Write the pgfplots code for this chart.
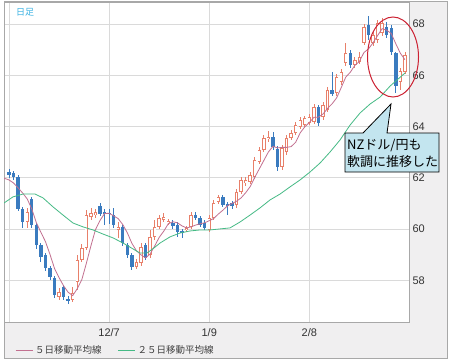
\documentclass[border=0pt]{standalone}
\usepackage{fontspec}
\setmainfont{Liberation Sans}
\newfontfamily\jp{Noto Sans CJK JP}
\usepackage{pgfplots}
\pgfplotsset{compat=1.18}
\usepackage{pgfplotstable}

\definecolor{candblue}{HTML}{3A7BBF}
\definecolor{candred}{HTML}{E8806A}
\definecolor{maFive}{HTML}{C27090}
\definecolor{maTwentyFive}{HTML}{45BA85}
\definecolor{gridgray}{HTML}{DADADA}
\definecolor{panelgray}{HTML}{F0EFF0}
\definecolor{framegray}{HTML}{A8A8A8}
\definecolor{labelblue}{HTML}{3DB3E3}
\definecolor{calloutfill}{HTML}{C3E5EF}
\definecolor{ellred}{HTML}{CC2233}

% up (red, hollow) candles: index open high low close
\pgfplotstableread{
i o h l c
4 60.28 60.83 60.05 60.67
11 57.36 57.71 57.24 57.55
14 57.24 57.75 57.16 57.51
15 57.94 58.99 57.63 58.80
16 58.80 59.42 58.72 59.27
17 59.27 60.75 59.19 60.55
18 60.48 60.83 60.36 60.63
19 60.55 60.79 60.44 60.67
24 59.97 60.28 59.66 60.09
28 58.53 58.84 58.45 58.72
29 58.68 59.46 58.57 59.30
31 58.99 59.97 58.88 59.70
32 59.70 60.36 59.58 60.09
33 60.09 60.55 60.01 60.44
34 60.36 60.63 60.28 60.48
35 60.24 60.40 60.16 60.32
39 59.97 60.12 59.89 60.05
40 60.09 60.67 60.01 60.55
44 59.97 60.55 59.89 60.44
45 60.44 61.14 60.36 61.02
46 61.06 61.33 60.98 61.26
50 60.94 61.57 60.83 61.45
51 61.45 62.04 61.37 61.92
52 61.80 62.04 61.68 61.92
53 61.84 62.23 61.76 62.11
54 62.04 62.81 61.96 62.70
55 62.62 63.20 62.54 63.09
56 63.09 63.67 63.01 63.56
57 63.52 63.83 63.40 63.59
60 62.43 63.28 62.31 63.17
61 63.01 63.67 62.89 63.56
62 63.56 63.87 63.48 63.75
63 63.75 64.18 63.67 64.06
64 63.99 64.37 63.91 64.26
65 64.06 64.41 63.99 64.34
66 64.14 64.49 64.06 64.37
67 64.18 64.88 64.10 64.76
69 64.37 64.96 64.26 64.84
70 64.65 65.54 64.57 65.43
72 65.31 66.05 65.19 65.93
73 65.74 66.25 65.62 66.13
74 66.48 67.26 66.36 66.87
76 66.40 66.71 66.29 66.60
77 66.52 66.91 66.44 66.71
78 67.26 68.00 67.18 67.88
80 67.26 67.69 67.14 67.57
81 67.38 68.16 67.26 68.04
82 67.65 68.23 67.53 68.04
86 65.74 66.29 65.43 66.17
87 66.13 66.91 66.05 66.79
}\upcandles

% down (blue, filled) candles
\pgfplotstableread{
i o h l c
0 62.23 62.35 61.99 62.11
1 62.19 62.27 61.92 62.04
2 62.04 62.11 60.71 60.79
3 60.79 60.87 60.05 60.28
5 61.18 61.26 60.05 60.16
6 60.16 60.24 59.23 59.38
7 59.38 59.46 58.72 58.92
8 58.99 59.07 58.37 58.49
9 58.49 58.57 58.02 58.14
10 58.10 58.17 57.32 57.43
12 57.75 57.82 57.24 57.36
13 57.28 57.40 57.08 57.20
20 60.90 61.02 60.51 60.59
21 60.67 60.79 60.16 60.59
22 60.65 60.79 60.20 60.60
23 60.55 60.83 60.05 60.16
25 60.09 60.16 59.34 59.46
26 59.38 59.46 58.88 58.99
27 58.99 59.07 58.41 58.53
30 59.38 59.46 58.80 58.88
36 60.24 60.36 60.01 60.12
37 60.16 60.28 59.70 59.89
38 59.93 60.01 59.66 59.85
41 60.55 60.67 60.36 60.44
42 60.44 60.51 60.09 60.16
43 60.24 60.36 59.97 60.05
47 61.26 61.33 60.87 60.94
48 60.98 61.06 60.55 60.90
49 61.02 61.10 60.79 60.90
58 63.59 63.79 63.09 63.20
59 63.13 63.24 62.27 62.43
68 64.76 64.84 64.02 64.14
71 65.43 66.13 65.19 65.27
75 66.87 66.99 66.29 66.40
79 67.96 68.31 67.38 67.57
83 67.88 68.08 67.45 67.57
84 67.84 67.96 66.79 66.91
85 66.87 66.91 65.31 65.60
}\downcandles

% 5-day moving average
\pgfplotstableread{
i v
-1.1 61.99
0 61.92
1 61.80
2 61.61
3 61.41
4 61.18
5 60.79
6 60.26
7 59.88
8 59.52
9 59.02
10 58.47
11 58.11
12 57.79
13 57.54
14 57.41
15 57.68
16 58.03
17 58.67
18 59.35
19 59.98
20 60.34
21 60.61
22 60.62
23 60.52
24 60.41
25 60.18
26 59.86
27 59.45
28 59.16
29 59.00
30 58.88
31 59.03
32 59.34
33 59.68
34 59.92
35 60.21
36 60.29
37 60.25
38 60.13
39 60.05
40 60.09
41 60.16
42 60.21
43 60.25
44 60.33
45 60.42
46 60.59
47 60.74
48 60.91
49 61.00
50 61.09
51 61.22
52 61.42
53 61.66
54 62.02
55 62.35
56 62.68
57 63.01
58 63.23
59 63.17
60 63.19
61 63.19
62 63.22
63 63.39
64 63.76
65 63.99
66 64.16
67 64.36
68 64.37
69 64.49
70 64.71
71 64.89
72 65.12
73 65.52
74 65.93
75 66.12
76 66.39
77 66.54
78 66.89
79 67.03
80 67.27
81 67.55
82 67.82
83 67.76
84 67.63
85 67.23
86 66.86
87 66.61
}\maFiveTab

% 25-day moving average
\pgfplotstableread{
i v
-1.10 61.02
0.88 61.26
3.08 61.37
5.71 61.37
7.47 61.22
9.67 60.87
11.87 60.55
14.07 60.24
16.26 60.09
18.46 59.97
20.66 59.81
22.86 59.66
25.05 59.46
27.25 59.23
28.79 59.07
30.33 59.07
32.09 59.30
33.19 59.46
35.38 59.70
37.58 59.85
39.78 59.93
41.98 59.97
44.18 59.97
46.37 60.01
48.57 60.05
50.77 60.28
52.97 60.55
55.16 60.83
57.36 61.14
59.56 61.37
61.76 61.65
63.96 61.92
66.15 62.23
68.35 62.58
70.55 63.01
72.75 63.48
74.95 64.06
77.14 64.53
79.34 64.88
81.54 65.15
83.74 65.58
85.27 65.82
87.03 66.09
}\maTwentyFiveTab

\begin{document}
\begin{tikzpicture}[x=1bp,y=1bp]
% outer panel
\fill[panelgray] (0,-36) rectangle (443,320);
\draw[framegray, line width=1bp] (0,-36) rectangle (443,320);
\begin{axis}[
  at={(0,0)}, anchor=south west,
  scale only axis, width=405bp, height=319bp,
  xmin=-1.1, xmax=87.9, ymin=56.38, ymax=68.82,
  axis background/.style={fill=white},
  axis line style={draw=framegray, line width=1bp},
  xtick={0,22,44,66}, xticklabels={,12/7,1/9,2/8},
  ytick={58,60,62,64,66,68},
  yticklabel pos=right,
  major tick length=0pt,
  grid=major, grid style={draw=gridgray, line width=0.9bp},
  tick label style={font=\fontsize{11bp}{12bp}\selectfont, text=black!80},
  xticklabel style={yshift=-3bp},
  /pgf/number format/assume math mode=true,
  legend columns=2,
  legend style={draw=none, fill=none, inner sep=0pt, at={(0.0272,-0.0878)}, anchor=west,
    font=\jp\fontsize{9.5bp}{10bp}\selectfont, text=black!75,
    /tikz/every even column/.append style={column sep=14bp}},
  legend image code/.code={\draw[#1, line width=1bp] (0bp,0bp) -- (17bp,0bp);},
]
% wicks
\addplot[forget plot, draw=none, mark=none, error bars/.cd, y dir=both, y explicit, error mark=none,
  error bar style={draw=candred, line width=0.8bp}]
  table[x=i, y expr={(\thisrow{h}+\thisrow{l})/2}, y error expr={(\thisrow{h}-\thisrow{l})/2}] {\upcandles};
\addplot[forget plot, draw=none, mark=none, error bars/.cd, y dir=both, y explicit, error mark=none,
  error bar style={draw=candblue, line width=0.8bp}]
  table[x=i, y expr={(\thisrow{h}+\thisrow{l})/2}, y error expr={(\thisrow{h}-\thisrow{l})/2}] {\downcandles};
% bodies
\addplot[forget plot, draw=none, mark=none, error bars/.cd, y dir=both, y explicit, error mark=none,
  error bar style={draw=candblue, line width=3.4bp}]
  table[x=i, y expr={(\thisrow{o}+\thisrow{c})/2}, y error expr={max((\thisrow{o}-\thisrow{c})/2,0.025)}] {\downcandles};
\addplot[forget plot, draw=none, mark=none, error bars/.cd, y dir=both, y explicit, error mark=none,
  error bar style={draw=candred, line width=3.4bp}]
  table[x=i, y expr={(\thisrow{o}+\thisrow{c})/2}, y error expr={max((\thisrow{c}-\thisrow{o})/2,0.025)}] {\upcandles};
\addplot[forget plot, draw=none, mark=none, error bars/.cd, y dir=both, y explicit, error mark=none,
  error bar style={draw=white, line width=1.8bp}]
  table[x=i, y expr={(\thisrow{o}+\thisrow{c})/2}, y error expr={max((\thisrow{c}-\thisrow{o})/2-0.032,0)}] {\upcandles};
% moving averages
\addplot[maFive, line width=0.8bp, mark=none] table[x=i, y=v] {\maFiveTab};
\addlegendentry{５日移動平均線}
\addplot[maTwentyFive, line width=0.8bp, mark=none] table[x=i, y=v] {\maTwentyFiveTab};
\addlegendentry{２５日移動平均線}
\end{axis}
% label
\node[anchor=west, inner sep=0pt, text=labelblue, font=\jp\fontsize{9bp}{10bp}\selectfont] at (12,310) {日足};
% highlight ellipse
\draw[ellred, line width=1bp] (389,265) ellipse [x radius=25.5, y radius=40];
% callout
\draw[fill=calloutfill, draw=black, line width=0.8bp]
  (341,150) -- (341,189) -- (359,189) -- (387,218) -- (383,189) -- (435,189) -- (435,150) -- cycle;
\node[anchor=west, inner sep=0pt, font=\jp\fontsize{13bp}{14bp}\selectfont] at (343,177) {NZドル/円も};
\node[anchor=west, inner sep=0pt, font=\jp\fontsize{13bp}{14bp}\selectfont] at (343,160) {軟調に推移した};
\pgfresetboundingbox
\useasboundingbox (-4,-41) rectangle (448,322);
\end{tikzpicture}
\end{document}
